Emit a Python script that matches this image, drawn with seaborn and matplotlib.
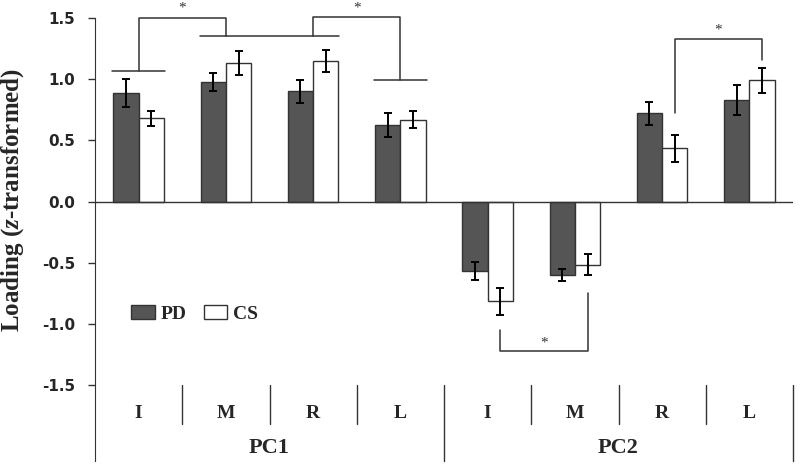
import matplotlib
matplotlib.use("Agg")
import pandas as pd
import seaborn as sns
import matplotlib.pyplot as plt
from matplotlib.patches import Patch

# data
components = ["PC1", "PC2"]
fingers = ["I", "M", "R", "L"]
pd_mean = [0.885, 0.978, 0.90, 0.625, -0.57, -0.60, 0.72, 0.83]
pd_err = [0.115, 0.075, 0.095, 0.095, 0.075, 0.05, 0.095, 0.125]
cs_mean = [0.68, 1.13, 1.15, 0.67, -0.815, -0.515, 0.435, 0.99]
cs_err = [0.06, 0.10, 0.09, 0.07, 0.11, 0.085, 0.11, 0.10]

keys = [c + "-" + f for c in components for f in fingers]
df = pd.DataFrame({
    "cond": keys * 2,
    "group": ["PD"] * 8 + ["CS"] * 8,
    "value": pd_mean + cs_mean,
})

sns.set_style("white")
plt.rcParams["axes.unicode_minus"] = False
plt.rcParams["mathtext.fontset"] = "custom"
plt.rcParams["mathtext.it"] = "Liberation Serif:italic:bold"
plt.rcParams["mathtext.rm"] = "Liberation Serif:bold"

fig = plt.figure(figsize=(8, 4.66), dpi=100)
ax = fig.add_axes([0.11875, 0.0107, 0.8725, 0.9893])

pal = {"PD": "#555555", "CS": "white"}
sns.barplot(data=df, x="cond", y="value", hue="group", order=keys,
            hue_order=["PD", "CS"], palette=pal, width=0.58, errorbar=None,
            edgecolor="#333333", linewidth=1, legend=False, ax=ax)

# error bars on the drawn bars
for cont, errs in zip(ax.containers, [pd_err, cs_err]):
    for bar, e in zip(cont, errs):
        xc = bar.get_x() + bar.get_width() / 2
        ax.errorbar(xc, bar.get_height(), yerr=e, fmt="none", ecolor="black",
                    elinewidth=1.4, capsize=3.2, capthick=1.4, zorder=5)

ax.axhline(0, color="#333333", lw=1, zorder=4)
ax.set_xlim(-0.5, 7.5)
ax.set_ylim(-2.121, 1.647)
ax.set_xticks([])
ax.set_xlabel("")
ax.set_yticks([-1.5, -1.0, -0.5, 0.0, 0.5, 1.0, 1.5])
ax.set_yticklabels(["%.1f" % t for t in ax.get_yticks()],
                   fontfamily="DejaVu Sans", fontweight="bold", fontsize=11)
ax.tick_params(axis="y", direction="out", length=5, width=1, pad=9, left=True,
               color="#333333")
for s in ["top", "right", "bottom"]:
    ax.spines[s].set_visible(False)
ax.spines["left"].set_bounds(-2.121, 1.5)
ax.spines["left"].set_color("#333333")
ax.set_ylabel(r"Loading ($z$-transformed)", fontfamily="Liberation Serif",
              fontweight="bold", fontsize=18)
ax.yaxis.set_label_coords(-0.099, 0.566)

# category axis drawn below -1.5
lc = "#333333"
for i in range(8):
    xb = i + 0.5
    low = -2.121 if i in (3, 7) else -1.82
    ax.plot([xb, xb], [-1.5, low], color=lc, lw=1, clip_on=False)
    ax.text(i, -1.73, fingers[i % 4], ha="center", va="center",
            fontfamily="Liberation Serif", fontweight="bold", fontsize=14)
for j, c in enumerate(components):
    ax.text(1.5 + 4 * j, -2.015, c, ha="center", va="center",
            fontfamily="Liberation Serif", fontweight="bold", fontsize=16)

# significance brackets
def seg(xs, ys):
    ax.plot(xs, ys, color=lc, lw=1.1, clip_on=False, zorder=6)

def star(x, y):
    ax.text(x, y, "*", ha="center", va="center", fontsize=11,
            fontfamily="Liberation Serif", color="#333333")

seg([-0.3, 0.3], [1.07, 1.07])
seg([0.7, 2.3], [1.355, 1.355])
seg([2.7, 3.3], [0.99, 0.99])
seg([0, 0, 1, 1], [1.07, 1.5, 1.5, 1.355])
seg([2, 2, 3, 3], [1.355, 1.51, 1.51, 0.99])
star(0.5, 1.58)
star(2.5, 1.58)
seg([6.145, 6.145, 7.145, 7.145], [0.72, 1.325, 1.325, 1.155])
star(6.645, 1.40)
seg([4.145, 4.145, 5.145, 5.145], [-1.05, -1.225, -1.225, -0.75])
star(4.645, -1.16)

handles = [Patch(facecolor=pal[g], edgecolor="#333333", lw=1) for g in ["PD", "CS"]]
ax.legend(handles, ["PD", "CS"], ncol=2, frameon=False, loc="center left",
          bbox_to_anchor=(0.052, 0.319), borderpad=0, borderaxespad=0,
          handlelength=1.2, handleheight=0.75, handletextpad=0.3,
          columnspacing=0.9,
          prop={"family": "Liberation Serif", "weight": "bold", "size": 14})

fig.savefig("out.png", dpi=100)
